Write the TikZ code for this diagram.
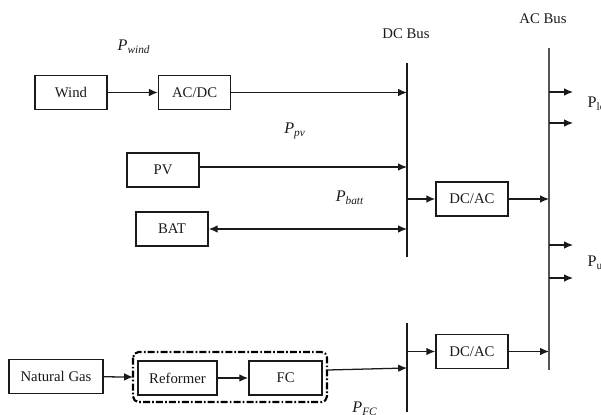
\documentclass[tikz,border=0pt]{standalone}
\usepackage{fontspec}
\setmainfont{Liberation Serif}
\usepackage{tikz}
\usetikzlibrary{arrows.meta, positioning}
\definecolor{cLine}{HTML}{1A1A1A}
\definecolor{cBus}{HTML}{555555}
\newcommand{\pw}[1]{\textit{P}\textsubscript{\textit{#1}}}

\begin{document}
\begin{tikzpicture}[x=0.025cm, y=-0.025cm, every node/.style={font=\fontsize{10.5}{12}\selectfont, text=cLine},
  box/.style={draw=cLine, line width=1.1pt, minimum width=1.8cm, minimum height=0.84cm, inner sep=2pt},
  arr/.style={-{Latex[length=2.2mm, width=1.9mm]}, line width=0.9pt, draw=cLine},
  bus/.style={line width=1pt, draw=#1},
  plabel/.style={inner sep=1pt, font=\fontsize{11.5}{13}\selectfont}]
  \clip (0,0) rectangle (601,415);
  % sources
  \node[box] (wind) at (71,92.5) {Wind};
  \node[box, right=1.25cm of wind] (acdc) {AC/DC};
  \node[box] (pv) at (163,170) {PV};
  \node[box] (bat) at (172,229) {BAT};
  \node[box, minimum width=2.35cm] (gas) at (56,376.5) {Natural Gas};
  \node[box, minimum width=1.98cm, line width=1.4pt] (reform) at (177.5,378) {Reformer};
  \node[box, minimum width=1.83cm, line width=1.4pt, right=0.75cm of reform] (fc) {FC};
  \draw[line width=1.5pt, rounded corners=4pt, dash pattern=on 5pt off 1.5pt on 1.2pt off 1.5pt]
    (133,352) rectangle (327,402);
  % converters
  \node[box] (dcac) at (472,199) {DC/AC};
  \node[box] (dcac2) at (472,351.5) {DC/AC};
  % buses
  \coordinate (dctop) at (407,63);
  \coordinate (dcbot) at (407,257);
  \coordinate (fctop) at (407,323);
  \coordinate (fcbot) at (407,412);
  \coordinate (actop) at (549,48);
  \coordinate (acbot) at (549,370);
  \draw[bus=cLine] (dctop) -- (dcbot);
  \draw[bus=cLine] (fctop) -- (fcbot);
  \draw[bus=cBus] (actop) -- (acbot);
  \node (dclab) at (406,34) {DC Bus};
  \node (aclab) at (543,19) {AC Bus};
  % connections
  \draw[arr] (wind) -- (acdc);
  \draw[arr] (acdc) -- (acdc -| dctop);
  \draw[arr] (pv.east |- 0,167) -- (dctop |- 0,167);
  \draw[arr, {Latex[length=2.2mm, width=1.9mm]}-{Latex[length=2.2mm, width=1.9mm]}] (bat) -- (bat -| dctop);
  \draw[arr] (dctop |- dcac) -- (dcac);
  \draw[arr] (dcac) -- (dcac -| actop);
  \draw[arr] (gas) -- (133,377);
  \draw[arr] (reform) -- (fc);
  \draw[arr] (328,370) -- (fctop |- 0,368);
  \draw[arr] (fctop |- dcac2) -- (dcac2);
  \draw[arr] (dcac2) -- (dcac2 -| actop);
  \foreach \y in {92,123,245,278}
    \draw[arr] (actop |- 0,\y) -- ++(24,0);
  % power labels
  \node[plabel] (pwind) at (134,47) {\pw{wind}};
  \node[plabel] (ppv) at (295,131) {\pw{pv}};
  \node[plabel] (pbatt) at (350,198) {\pw{batt}};
  \node[plabel] (pfc) at (365,409) {\pw{FC}};
  \node[plabel, anchor=west] (pload) at (586,104) {P\textsubscript{load}};
  \node[plabel, anchor=west] (putil) at (586,264) {P\textsubscript{utility}};
\end{tikzpicture}
\end{document}
